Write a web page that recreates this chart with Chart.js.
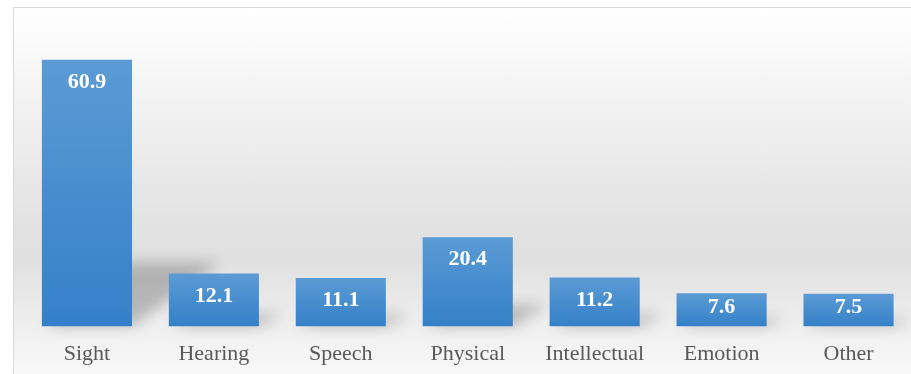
<!DOCTYPE html>
<html>
<head>
<meta charset="utf-8">
<script src="https://cdn.jsdelivr.net/npm/chart.js@4.4.0/dist/chart.umd.min.js"></script>
<style>
    body { margin: 0; background: #ffffff; overflow: hidden; }
    #frame {
        position: absolute; left: 13px; top: 7px; width: 920px; height: 380px;
        border: 1px solid #d9d9d9;
        background: linear-gradient(to bottom, #ffffff 0%, #f2f2f2 25%, #e3e3e3 55%, #e0e0e0 66%, #f2f2f2 88%, #fbfbfb 100%);
    }
    #wrap { position: absolute; left: 0; top: 0; width: 912px; height: 381px; }
</style>
</head>
<body>
<div id="frame"></div>
<div id="wrap"><canvas id="disabilityChart"></canvas></div>
<script>
let categories = ["Sight", "Hearing", "Speech", "Physical", "Intellectual", "Emotion", "Other"];
let values = [60.9, 12.1, 11.1, 20.4, 11.2, 7.6, 7.5];
let valueLabels = ["60.9", "12.1", "11.1", "20.4", "11.2", "7.6", "7.5"];

const serif = '"Liberation Serif", "Times New Roman", serif';

function barFill(context) {
    const chart = context.chart;
    const yScale = chart.scales.y;
    if (!chart.chartArea || !yScale) {
        return '#4a90d0';
    }
    const top = yScale.getPixelForValue(context.raw);
    const bottom = yScale.getPixelForValue(0);
    const g = chart.ctx.createLinearGradient(0, top, 0, bottom);
    g.addColorStop(0, '#5b9bd5');
    g.addColorStop(1, '#3480c8');
    return g;
}

// soft slanted shadow behind each bar
const shadowPlugin = {
    id: 'barShadow',
    beforeDatasetsDraw(chart) {
        const ctx = chart.ctx;
        const meta = chart.getDatasetMeta(0);
        ctx.save();
        ctx.filter = 'blur(7px)';
        ctx.fillStyle = 'rgba(0,0,0,0.22)';
        meta.data.forEach(bar => {
            const h = bar.base - bar.y;
            const half = bar.width / 2;
            const up = h * 0.24;
            const shift = h * 0.3 + 8;
            ctx.beginPath();
            ctx.moveTo(bar.x - half + 4, bar.base);
            ctx.lineTo(bar.x + half, bar.base);
            ctx.lineTo(bar.x + half + shift, bar.base - up);
            ctx.lineTo(bar.x - half + shift, bar.base - up);
            ctx.closePath();
            ctx.fill();
        });
        ctx.restore();
    }
};

const valueLabelPlugin = {
    id: 'valueLabels',
    afterDatasetsDraw(chart) {
        const ctx = chart.ctx;
        const meta = chart.getDatasetMeta(0);
        ctx.save();
        ctx.font = 'bold 22px ' + serif;
        ctx.fillStyle = '#ffffff';
        ctx.textAlign = 'center';
        ctx.textBaseline = 'middle';
        meta.data.forEach((bar, i) => {
            const y = Math.min(bar.y + 22.5, bar.base - 19);
            ctx.fillText(valueLabels[i], bar.x, y);
        });
        ctx.restore();
    }
};

const config = {
    type: 'bar',
    data: {
        labels: categories,
        datasets: [{
            data: values,
            backgroundColor: barFill,
            borderWidth: 0,
            barPercentage: 0.71,
            categoryPercentage: 1
        }]
    },
    options: {
        responsive: true,
        maintainAspectRatio: false,
        animation: false,
        layout: { padding: { left: 23.5, right: 0, top: 20, bottom: 0 } },
        plugins: {
            legend: { display: false },
            tooltip: { enabled: false }
        },
        scales: {
            x: {
                grid: { display: false, drawTicks: false },
                border: { display: false },
                ticks: {
                    padding: 14,
                    color: '#595959',
                    font: { family: serif, size: 22 }
                }
            },
            y: {
                display: false,
                min: 0,
                max: 70
            }
        }
    },
    plugins: [shadowPlugin, valueLabelPlugin]
};

const ctx = document.getElementById('disabilityChart');
new Chart(ctx, config);
</script>
</body>
</html>
